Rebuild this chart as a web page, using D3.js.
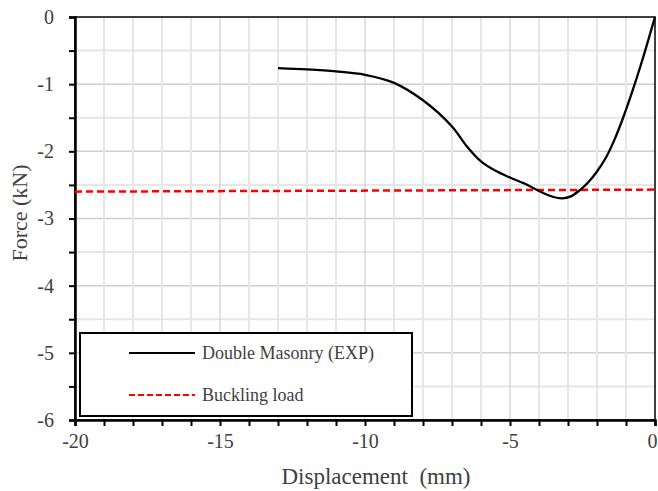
<!DOCTYPE html>
<html>
<head>
<meta charset="utf-8">
<script src="https://cdn.jsdelivr.net/npm/d3@7"></script>
<style>
  body { margin: 0; background: #fff; }
  svg text { font-family: "Liberation Serif", Tinos, "DejaVu Serif", serif; fill: #404040; }
</style>
</head>
<body>
<svg id="chart" width="658" height="491"></svg>
<script>
// experimental curve (displacement mm, force kN)
var expDisp  = [-13, -12, -11, -10, -9, -8, -7, -6.5, -6, -5.5, -5, -4.5, -4, -3.5, -3.2, -2.9, -2.6, -2.3, -2, -1.7, -1.4, -1.1, -0.8, -0.5, -0.25, 0];
var expForce = [-0.76, -0.78, -0.81, -0.86, -0.98, -1.24, -1.63, -1.92, -2.15, -2.29, -2.39, -2.48, -2.59, -2.68, -2.7, -2.67, -2.58, -2.46, -2.3, -2.1, -1.83, -1.5, -1.13, -0.73, -0.37, 0];
// buckling load reference line
var buckDisp  = [-20, 0];
var buckForce = [-2.6, -2.57];

var xTicks = [-20, -15, -10, -5, 0];
var yTicks = [0, -1, -2, -3, -4, -5, -6];
var legendLabels = ['Double Masonry (EXP)', 'Buckling load'];

var margins = {left: 75, right: 3, top: 17, bottom: 71};
var width = 658, height = 491;
var serif = '"Liberation Serif", Tinos, "DejaVu Serif", serif';
var svg = d3.select('#chart');

var xScale = d3.scaleLinear().domain([-20, 0]).range([margins.left, width - margins.right]);
var yScale = d3.scaleLinear().domain([-6, 0]).range([height - margins.bottom, margins.top]);

var grid = svg.append('g').attr('class', 'grid');

// horizontal grid every 0.5, stronger at integers
grid.selectAll('line.hy').data(d3.range(-5.5, 0, 0.5))
  .enter().append('line')
  .attr('x1', xScale(-20)).attr('x2', xScale(0))
  .attr('y1', function(d) { return yScale(d); })
  .attr('y2', function(d) { return yScale(d); })
  .attr('stroke', function(d) { return d % 1 === 0 ? '#cfcfcf' : '#e6e6e6'; })
  .attr('stroke-width', function(d) { return d % 1 === 0 ? 1.5 : 2; });

grid.selectAll('line.vx').data(d3.range(-19, 0, 1))
  .enter().append('line')
  .attr('y1', yScale(-6)).attr('y2', yScale(0))
  .attr('x1', function(d) { return xScale(d); })
  .attr('x2', function(d) { return xScale(d); })
  .attr('stroke', function(d) { return d % 5 === 0 ? '#cfcfcf' : '#e6e6e6'; })
  .attr('stroke-width', function(d) { return d % 5 === 0 ? 1.2 : 2; });

// frame top/right
svg.append('rect')
  .attr('x', xScale(-20)).attr('y', yScale(0))
  .attr('width', xScale(0) - xScale(-20)).attr('height', yScale(-6) - yScale(0))
  .attr('fill', 'none').attr('stroke', '#000').attr('stroke-width', 1.5);

// axes
var xAxis = d3.axisBottom(xScale).tickValues(d3.range(-20, 0.5, 1)).tickSize(6)
  .tickFormat(function(d) { return xTicks.indexOf(d) >= 0 ? String(d) : ''; });
var gx = svg.append('g').attr('transform', 'translate(0,' + yScale(-6) + ')').call(xAxis)
  .attr('font-family', serif);
gx.select('.domain').attr('stroke', '#000').attr('stroke-width', 2.5);
gx.selectAll('.tick line').attr('stroke', '#000').attr('stroke-width', 2);
gx.selectAll('.tick text').attr('font-size', 20).attr('y', 14).attr('dy', '0.71em');
gx.selectAll('.tick text').filter(function(d) { return d === 0; }).attr('dx', -3);

var yAxis = d3.axisLeft(yScale).tickValues(d3.range(-6, 0.25, 0.5)).tickSize(6)
  .tickFormat(function(d) { return yTicks.indexOf(d) >= 0 ? String(d) : ''; });
var gy = svg.append('g').attr('transform', 'translate(' + xScale(-20) + ',0)').call(yAxis)
  .attr('font-family', serif);
gy.select('.domain').attr('stroke', '#000').attr('stroke-width', 2.5);
gy.selectAll('.tick line').attr('stroke', '#000').attr('stroke-width', 2);
gy.selectAll('.tick text').attr('font-size', 20).attr('x', -21);

// axis titles
svg.append('text').attr('x', 376).attr('y', 484)
  .attr('text-anchor', 'middle').attr('font-size', 23).attr('xml:space', 'preserve')
  .text('Displacement  (mm)');
svg.append('text')
  .attr('transform', 'translate(27,213) rotate(-90)')
  .attr('text-anchor', 'middle').attr('font-size', 22)
  .text('Force (kN)');

// series
var line = d3.line()
  .x(function(d) { return xScale(d[0]); })
  .y(function(d) { return yScale(d[1]); });

svg.append('path')
  .datum(d3.zip(buckDisp, buckForce))
  .attr('d', line)
  .attr('fill', 'none').attr('stroke', '#ff0000').attr('stroke-width', 2.5)
  .attr('stroke-dasharray', '7,4');

svg.append('path')
  .datum(d3.zip(expDisp, expForce))
  .attr('d', line.curve(d3.curveCatmullRom.alpha(0.5)))
  .attr('fill', 'none').attr('stroke', '#000').attr('stroke-width', 2.3);

// legend
var lg = svg.append('g');
lg.append('rect').attr('x', 80).attr('y', 333).attr('width', 332).attr('height', 83)
  .attr('fill', '#fff').attr('stroke', '#000').attr('stroke-width', 2);
var items = [
  {label: legendLabels[0], color: '#000', dash: null, y: 353},
  {label: legendLabels[1], color: '#ff0000', dash: '6,3', y: 395}
];
items.forEach(function(it) {
  lg.append('line').attr('x1', 129).attr('x2', 195).attr('y1', it.y).attr('y2', it.y)
    .attr('stroke', it.color).attr('stroke-width', 2).attr('stroke-dasharray', it.dash);
  lg.append('text').attr('x', 202).attr('y', it.y + 6).attr('font-size', 18).text(it.label);
});
</script>
</body>
</html>
